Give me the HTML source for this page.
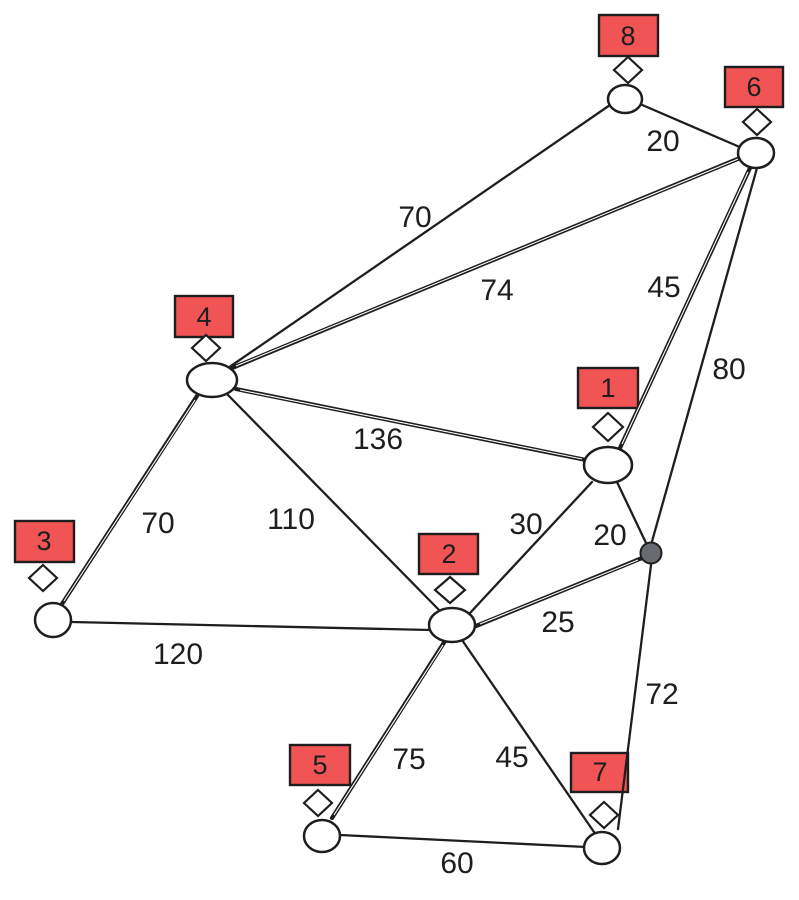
<!DOCTYPE html>
<html>
<head>
<meta charset="utf-8">
<style>
  html,body{margin:0;padding:0;background:#fff;}
  svg{display:block;}
  text{font-family:"Liberation Sans",sans-serif;fill:#1e1e1e;}
</style>
</head>
<body>
<svg width="799" height="900" viewBox="0 0 799 900" xmlns="http://www.w3.org/2000/svg">
  <rect width="799" height="900" fill="#fff"/>

  <!-- label boxes -->
  <g fill="#f05454" stroke="#1e1e1e" stroke-width="2.4">
    <rect x="599" y="15" width="59" height="41"/>
    <rect x="725" y="67" width="58" height="40"/>
    <rect x="175" y="296" width="58" height="41"/>
    <rect x="578" y="368" width="60" height="40"/>
    <rect x="419" y="534" width="59" height="40"/>
    <rect x="15" y="521" width="59" height="41"/>
    <rect x="290" y="745" width="60" height="40"/>
    <rect x="571" y="753" width="57" height="39"/>
  </g>
  <g font-size="27" text-anchor="middle">
    <text x="628" y="45">8</text>
    <text x="754" y="96">6</text>
    <text x="204" y="326">4</text>
    <text x="608" y="397">1</text>
    <text x="449" y="563">2</text>
    <text x="44" y="550">3</text>
    <text x="320" y="774">5</text>
    <text x="600" y="781">7</text>
  </g>

  <!-- single edges -->
  <g stroke="#1e1e1e" stroke-width="2.3" fill="none" stroke-linecap="round">
    <line x1="610" y1="105" x2="228" y2="368"/>
    <line x1="640" y1="104" x2="742" y2="148"/>
    <line x1="757" y1="168" x2="651" y2="545"/>
    <line x1="228" y1="395" x2="440" y2="611"/>
    <line x1="617" y1="482" x2="647" y2="545"/>
    <line x1="592" y1="482" x2="470" y2="613"/>
    <line x1="651" y1="565" x2="618" y2="829"/>
    <line x1="72" y1="622" x2="430" y2="630"/>
    <line x1="462" y1="640" x2="594" y2="832"/>
    <line x1="340" y1="835" x2="586" y2="847"/>
  </g>
  <!-- double edges -->
  <g stroke="#1e1e1e" stroke-width="4.2" fill="none" stroke-linecap="round">
    <line x1="740" y1="158" x2="232" y2="368"/>
    <line x1="750" y1="168" x2="620" y2="448"/>
    <line x1="236" y1="389" x2="586" y2="460"/>
    <line x1="197" y1="396" x2="62" y2="604"/>
    <line x1="642" y1="558" x2="476" y2="626"/>
    <line x1="445" y1="641" x2="332" y2="818"/>
  </g>
  <g stroke="#fff" stroke-width="1.1" fill="none">
    <line x1="738" y1="159" x2="236" y2="366"/>
    <line x1="748" y1="172" x2="622" y2="444"/>
    <line x1="240" y1="390" x2="582" y2="459"/>
    <line x1="195" y1="400" x2="64" y2="601"/>
    <line x1="638" y1="560" x2="480" y2="624"/>
    <line x1="443" y1="645" x2="334" y2="815"/>
  </g>

  <!-- nodes -->
  <g fill="#fff" stroke="#1e1e1e" stroke-width="2.5">
    <ellipse cx="625" cy="99" rx="17" ry="14"/>
    <ellipse cx="756" cy="153" rx="18" ry="15"/>
    <ellipse cx="212" cy="380" rx="25" ry="17"/>
    <ellipse cx="608" cy="465" rx="24" ry="18"/>
    <ellipse cx="452" cy="625" rx="23" ry="17"/>
    <ellipse cx="53" cy="620" rx="18" ry="17"/>
    <ellipse cx="322" cy="836" rx="18" ry="16"/>
    <ellipse cx="602" cy="848" rx="18" ry="16"/>
  </g>
  <circle cx="651" cy="553" r="10.5" fill="#686b70" stroke="#1e1e1e" stroke-width="2"/>

  <!-- diamonds -->
  <g fill="#fff" stroke="#1e1e1e" stroke-width="2.2">
    <polygon points="628,57 642,70 628,83 614,70"/>
    <polygon points="757,109 771,122 757,135 743,122"/>
    <polygon points="206,335 220,348 206,361 192,348"/>
    <polygon points="608,413 623,427 608,441 593,427"/>
    <polygon points="450,577 465,590 450,603 435,590"/>
    <polygon points="43,565 57,578 43,591 29,578"/>
    <polygon points="318,790 332,803 318,816 304,803"/>
    <polygon points="604,802 618,815 604,828 590,815"/>
  </g>

  <!-- edge labels -->
  <g font-size="30" text-anchor="middle">
    <text x="663" y="151">20</text>
    <text x="415" y="227">70</text>
    <text x="497" y="300">74</text>
    <text x="664" y="297">45</text>
    <text x="729" y="379">80</text>
    <text x="378" y="449">136</text>
    <text x="526" y="534">30</text>
    <text x="610" y="545">20</text>
    <text x="158" y="533">70</text>
    <text x="291" y="529">110</text>
    <text x="558" y="632">25</text>
    <text x="178" y="664">120</text>
    <text x="662" y="704">72</text>
    <text x="409" y="769">75</text>
    <text x="512" y="767">45</text>
    <text x="457" y="873">60</text>
  </g>
</svg>
</body>
</html>
